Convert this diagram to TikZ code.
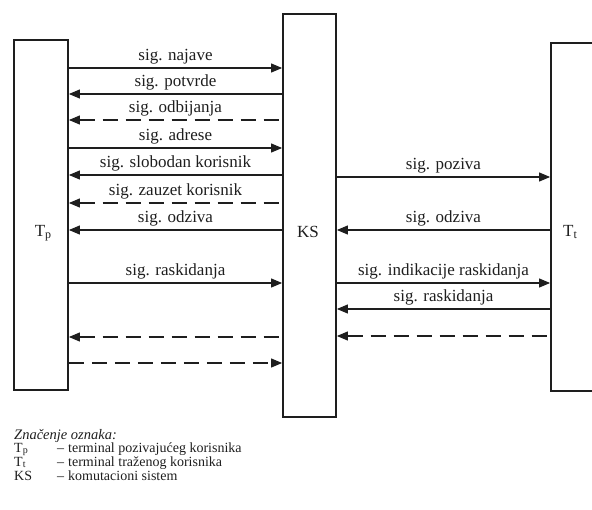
\documentclass[tikz,border=0pt]{standalone}
\usepackage{fontspec}
\setmainfont{Liberation Serif}
\usepackage{tikz}
\usetikzlibrary{positioning, arrows.meta}
\definecolor{ink}{HTML}{1E1E1E}
% lowered index letter: size, letter
\newcommand{\idx}[2]{\raisebox{-0.1em}{\fontsize{#1}{#1}\selectfont #2}}

\begin{document}
\begin{tikzpicture}[
  x=1pt, y=-1pt,
  font=\fontsize{17}{20}\selectfont,
  unit/.style={rectangle, draw=ink, line width=1.8pt, inner sep=0pt, minimum width=54pt},
  fwd/.style={draw=ink, line width=1.1pt, -{Triangle[length=11pt, width=9pt]}},
  bwd/.style={draw=ink, line width=1.1pt, {Triangle[length=11pt, width=9pt]}-},
  gap/.style={dash pattern=on 15pt off 8pt},
  lbl/.style={inner sep=0pt, above=3pt, text=ink},
  legend/.style={font=\fontsize{14}{15}\selectfont, anchor=base west, inner sep=0pt, text=ink}
]
  \useasboundingbox (0,0) rectangle (592,509);
  \clip (0,0) rectangle (592,509);

  % the three units
  \node[unit, minimum height=350pt] (tp) at (41,215) {};
  \node[unit, minimum width=53pt, minimum height=403pt] (ks) at (309.5,215.5) {};
  \node[unit, minimum height=348pt] (tt) at (578,217) {};
  \node[text=ink] (tpname) at (43,233) {T\idx{12}{p}};
  \node[text=ink] (ksname) at (308,232) {KS};
  \node[text=ink] (ttname) at (570,232) {T\idx{12}{t}};

  % signals between Tp and KS
  \foreach \y/\dir/\ln/\txt in {
      68/fwd/solid/{sig. najave},
      94/bwd/solid/{sig. potvrde},
      120/bwd/gap/{sig. odbijanja},
      148/fwd/solid/{sig. adrese},
      175/bwd/solid/{sig. slobodan korisnik},
      203/bwd/gap/{sig. zauzet korisnik},
      230/bwd/solid/{sig. odziva},
      283/fwd/solid/{sig. raskidanja}
  } {
    \draw[\dir, \ln] (tp.east |- 0,\y) -- node[lbl] {\txt} (ks.west |- 0,\y);
  }
  \draw[bwd, gap] (tp.east |- 0,337) -- (ks.west |- 0,337);
  \draw[fwd, gap] (tp.east |- 0,363) -- (ks.west |- 0,363);

  % signals between KS and Tt
  \foreach \y/\dir/\ln/\txt in {
      177/fwd/solid/{sig. poziva},
      230/bwd/solid/{sig. odziva},
      283/fwd/solid/{sig. indikacije raskidanja},
      309/bwd/solid/{sig. raskidanja}
  } {
    \draw[\dir, \ln] (ks.east |- 0,\y) -- node[lbl] {\txt} (tt.west |- 0,\y);
  }
  \draw[bwd, gap] (ks.east |- 0,336) -- (tt.west |- 0,336);

  % legend
  \node[legend, font=\fontsize{14.5}{16}\selectfont\itshape] (legtitle) at (14,439) {Značenje oznaka:};
  \foreach \y/\sym/\txt in {
      452/{T\idx{10}{p}}/{terminal pozivajućeg korisnika},
      466/{T\idx{10}{t}}/{terminal traženog korisnika},
      480/{KS}/{komutacioni sistem}
  } {
    \node[legend] (sym\y) at (14,\y) {\sym};
    \node[legend] (dash\y) at (57,\y) {--};
    \node[legend] (txt\y) at (68,\y) {\txt};
  }
\end{tikzpicture}
\end{document}
